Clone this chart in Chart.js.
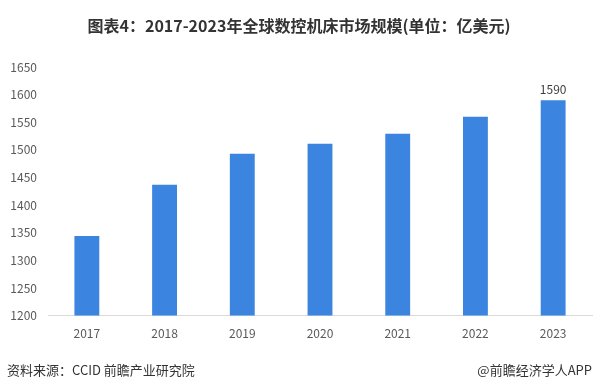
<!DOCTYPE html>
<html>
<head>
<meta charset="utf-8">
<script src="https://cdn.jsdelivr.net/npm/chart.js@4"></script>
<style>
  body { margin: 0; background: #fff; }
  #wrap { position: relative; width: 598px; height: 390px; font-family: "Noto Sans CJK SC", sans-serif; }
  #title { position: absolute; left: 0; top: 13px; width: 598px; text-align: center; font-size: 16px; font-weight: bold; color: #333; line-height: 24px; }
  #src { position: absolute; left: 7px; top: 361px; font-size: 13px; color: #333; line-height: 18px; }
  #brand { position: absolute; right: 6px; top: 361px; font-size: 13px; color: #333; line-height: 18px; }
  canvas { position: absolute; left: 0; top: 0; }
</style>
</head>
<body>
<div id="wrap">
  <canvas id="chart" width="598" height="390"></canvas>
  <div id="title">图表4：2017-2023年全球数控机床市场规模(单位：亿美元)</div>
  <div id="src">资料来源：CCID 前瞻产业研究院</div>
  <div id="brand">@前瞻经济学人APP</div>
</div>
<script>
// chart data
const years = ["2017", "2018", "2019", "2020", "2021", "2022", "2023"];
const marketSize = [1344, 1437, 1493, 1511, 1529, 1560, 1590];
const yTicks = [1200, 1250, 1300, 1350, 1400, 1450, 1500, 1550, 1600, 1650];

// only the last bar carries a value label
const lastLabel = {
    id: "lastLabel",
    afterDatasetsDraw(chart) {
        const meta = chart.getDatasetMeta(0);
        const i = marketSize.length - 1;
        const bar = meta.data[i];
        const ctx = chart.ctx;
        ctx.save();
        ctx.fillStyle = "#404040";
        ctx.font = "12px 'Noto Sans CJK SC'";
        ctx.textAlign = "center";
        ctx.textBaseline = "bottom";
        ctx.fillText(String(marketSize[i]), bar.x, bar.y - 5);
        ctx.restore();
    }
};

new Chart(document.getElementById("chart"), {
    type: "bar",
    data: {
        labels: years,
        datasets: [{
            data: marketSize,
            backgroundColor: "#3B84E0",
            barPercentage: 0.32,
            categoryPercentage: 1
        }]
    },
    options: {
        responsive: false,
        animation: false,
        layout: { padding: { top: 67, right: 6, bottom: 46, left: 0 } },
        plugins: { legend: { display: false }, tooltip: { enabled: false } },
        scales: {
            x: {
                grid: { display: false },
                border: { color: "#d9d9d9" },
                ticks: { color: "#595959", font: { family: "Noto Sans CJK SC", size: 12 } }
            },
            y: {
                min: yTicks[0],
                max: yTicks[yTicks.length - 1],
                grid: { display: false },
                border: { display: false },
                afterFit(scale) { scale.width = 48; },
                afterBuildTicks(scale) { scale.ticks = yTicks.map(v => ({ value: v })); },
                ticks: {
                    color: "#595959",
                    font: { family: "Noto Sans CJK SC", size: 12 },
                    callback: v => String(v)
                }
            }
        }
    },
    plugins: [lastLabel]
});
</script>
</body>
</html>
